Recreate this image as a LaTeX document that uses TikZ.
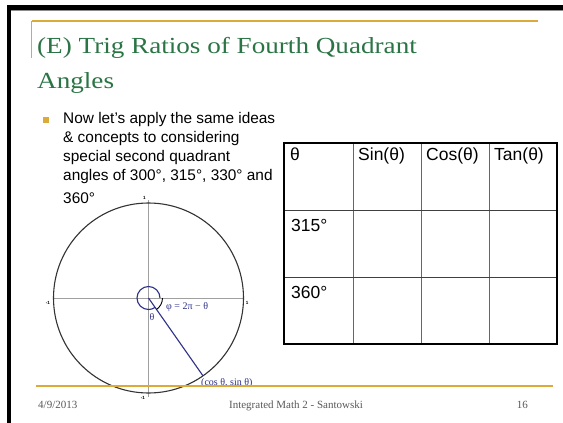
\documentclass[tikz,border=0pt]{standalone}
\usepackage{fontspec}
\usetikzlibrary{calc}
\setmainfont{Liberation Sans}
\newfontfamily\titlefont[FakeStretch=1.18]{Liberation Serif}
\newfontfamily\footfont{Liberation Serif}
\definecolor{slidegold}{HTML}{DCAA38}
\definecolor{titlegreen}{HTML}{2B7445}
\definecolor{angleblue}{HTML}{2E3188}
\definecolor{axisgray}{HTML}{A0A0A0}

\tikzset{
  goldrule/.style={slidegold, line width=1.5pt},
  titletext/.style={anchor=base west, inner sep=0, text=titlegreen, font=\titlefont\fontsize{23}{23}\selectfont},
  bodytext/.style={anchor=base west, inner sep=0, font=\fontsize{15.4}{15.4}\selectfont},
  celltext/.style={anchor=base west, inner sep=0, font=\fontsize{17.5}{17.5}\selectfont},
  foottext/.style={inner sep=0, text=black!65, font=\footfont\fontsize{11}{11}\selectfont},
  ticklabel/.style={inner sep=0, font=\fontsize{4.5}{4.5}\selectfont\bfseries},
  anglelabel/.style={inner sep=0, text=angleblue, font=\footfont\fontsize{10}{10}\selectfont}
}

\begin{document}
\begin{tikzpicture}[x=1pt, y=-1pt]
  \fill[white] (0,0) rectangle (563,423);
  \useasboundingbox (0,0) rectangle (563,423);
  % window edge
  \fill[black] (7,5) rectangle (563,10);
  \fill[black] (7,5) rectangle (11,423);
  \draw[black!45] (11,10.5) -- (563,10.5);
  % title corner and rule
  \draw[goldrule] (31.5,21) -- (538,21);
  \draw[goldrule] (31.5,21) -- (31.5,58);
  \node[titletext] (title1) at (37,53) {(E) Trig Ratios of Fourth Quadrant};
  \node[titletext] (title2) at (37,88) {Angles};
  % bullet
  \node[fill=slidegold, minimum size=6pt, inner sep=0] (bullet) at (46,120) {};
  \node[bodytext] (line1) at (63,123) {Now let’s apply the same ideas};
  \node[bodytext] (line2) at (63,142) {\& concepts to considering};
  \node[bodytext] (line3) at (63,161) {special second quadrant};
  \node[bodytext] (line4) at (63,180) {angles of 300°, 315°, 330° and};
  \node[bodytext] (line5) at (63,203) {360°};
  % unit circle
  \coordinate (O) at (148.5,298);
  \coordinate (P) at ($(O)+(55:95)$);
  \draw[axisgray, line width=1pt] (53.5,298) -- (243.5,298);
  \draw[axisgray, line width=1pt] (148.5,200) -- (148.5,397);
  \draw[black!80, line width=1.1pt] (O) circle (95);
  \draw[angleblue, line width=1.1pt] (O) -- (P);
  \draw[angleblue, line width=1.1pt] ($(O)+(11.5,0)$) arc[start angle=0, end angle=-305, radius=11.5];
  \draw[black, line width=0.9pt] ($(O)+(14,0)$) arc[start angle=0, end angle=55, radius=14];
  \node[ticklabel] (ytop) at (144.5,198) {1};
  \node[ticklabel] (xleft) at (48,303) {-1};
  \node[ticklabel] (xright) at (247,303) {1};
  \node[ticklabel] (ybot) at (143,398) {-1};
  \node[anglelabel, anchor=west] (phi) at (166,307) {φ = 2π − θ};
  \node[anglelabel] (theta) at (152,317) {θ};
  \node[anglelabel, anchor=west] (point) at (201,383) {(cos θ, sin θ)};
  % table
  \foreach \x in {353,421,489}
    \draw[black!60, line width=0.9pt] (\x,143) -- (\x,344);
  \foreach \y in {210,277}
    \draw[black!75, line width=0.9pt] (284,\y) -- (557,\y);
  \draw[black, line width=1.3pt] (284,143) rectangle (557,344);
  \node[celltext] (hd1) at (290,160) {θ};
  \node[celltext] (hd2) at (358,160) {Sin(θ)};
  \node[celltext] (hd3) at (426,160) {Cos(θ)};
  \node[celltext] (hd4) at (494,160) {Tan(θ)};
  \node[celltext] (row1) at (291,231) {315°};
  \node[celltext] (row2) at (291,298) {360°};
  % footer
  \draw[goldrule] (36,386) -- (553,386);
  \node[foottext, anchor=base west] (date) at (38,408) {4/9/2013};
  \node[foottext, anchor=base] (course) at (296,408) {Integrated Math 2 - Santowski};
  \node[foottext, anchor=base east] (page) at (528,408) {16};
\end{tikzpicture}
\end{document}
